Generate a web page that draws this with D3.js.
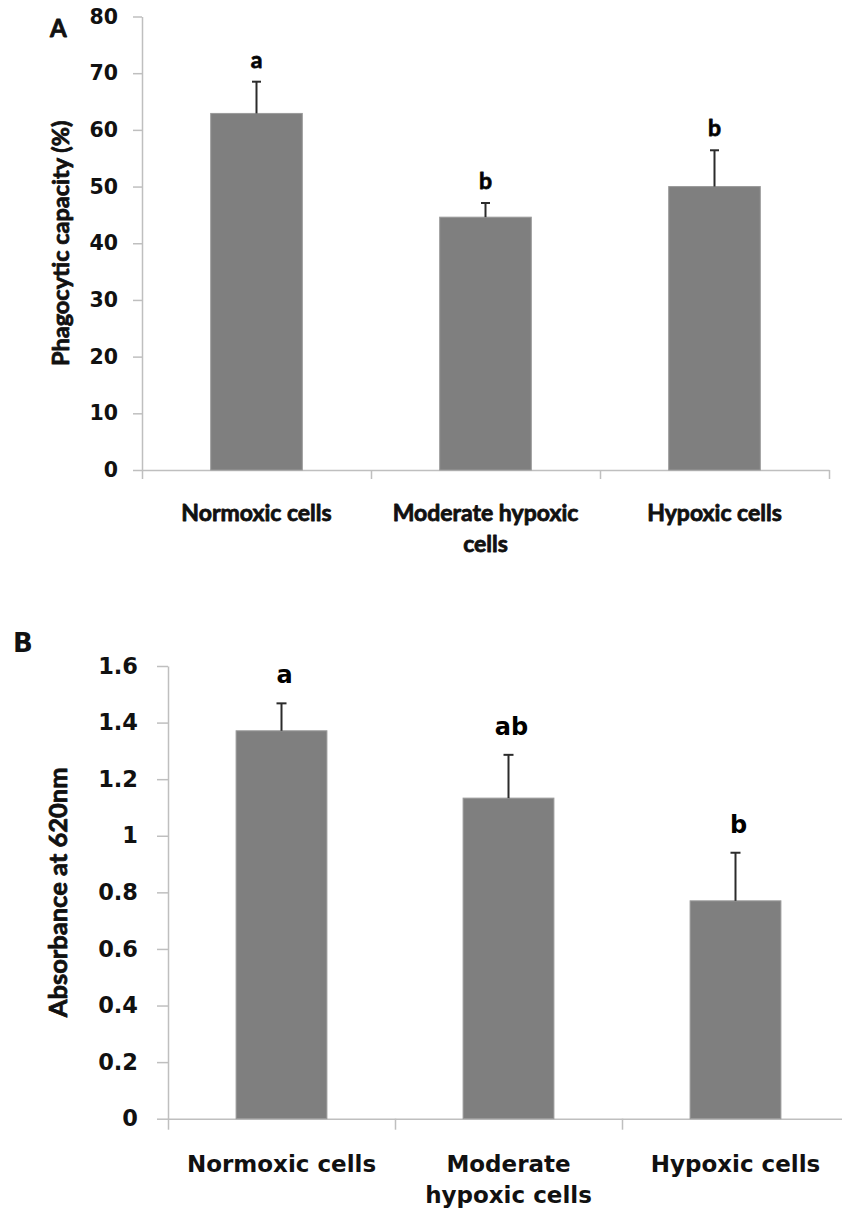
<!DOCTYPE html>
<html>
<head>
<meta charset="utf-8">
<script src="https://cdn.jsdelivr.net/npm/d3@7"></script>
<style>
  body { margin: 0; background: #fff; }
  svg { display: block; }
  .heavy { stroke: #111; stroke-width: 0.8px; stroke-linejoin: round; }
</style>
</head>
<body>
<svg id="fig" width="842" height="1211"></svg>
<script>
// DATA
const groups = ["Normoxic cells", "Moderate hypoxic cells", "Hypoxic cells"];

const phagoMean = [62.9, 44.6, 50.0];
const phagoErr = [5.6, 2.5, 6.4];
const phagoLetters = ["a", "b", "b"];
const phagoTicks = [0, 10, 20, 30, 40, 50, 60, 70, 80];
const phagoLabelLines = [["Normoxic cells"], ["Moderate hypoxic", "cells"], ["Hypoxic cells"]];

const absMean = [1.371, 1.133, 0.770];
const absErr = [0.097, 0.153, 0.170];
const absLetters = ["a", "ab", "b"];
const absTicks = [0, 0.2, 0.4, 0.6, 0.8, 1, 1.2, 1.4, 1.6];
const absLabelLines = [["Normoxic cells"], ["Moderate", "hypoxic cells"], ["Hypoxic cells"]];

const svg = d3.select("#fig");

// Lato bold is lighter than the scanned Calibri, so it gets a thin outline
const isLato = (f) => f.indexOf("Lato") === 0;

function drawPanel(cfg) {
  const g = svg.append("g");

  const x = d3.scaleBand().domain(groups).range([cfg.x0, cfg.x1]).padding(0);
  const y = d3.scaleLinear().domain(cfg.domain).range([cfg.y0, cfg.y1]);
  const bw = x.bandwidth() * 0.4;

  // y axis
  const yAxis = g.append("g")
    .attr("transform", `translate(${cfg.x0},0)`)
    .call(
      d3.axisLeft(y)
        .tickValues(cfg.ticks)
        .tickSize(cfg.tickSize)
        .tickSizeOuter(0)
        .tickPadding(cfg.tickPad)
        .tickFormat(cfg.fmt)
    );
  yAxis.select(".domain").attr("stroke", "#bfbfbf").attr("stroke-width", 1.5);
  yAxis.selectAll(".tick line").attr("stroke", "#bfbfbf").attr("stroke-width", 1.5);
  yAxis.selectAll(".tick text")
    .attr("fill", "#111")
    .style("font-family", cfg.tickFont)
    .style("font-weight", "bold")
    .style("font-size", cfg.tickFontSize + "px");

  // x axis: ticks at category boundaries
  const xb = d3.scaleLinear().domain([0, groups.length]).range([cfg.x0, cfg.x1]);
  const xAxis = g.append("g")
    .attr("transform", `translate(0,${cfg.y0})`)
    .call(
      d3.axisBottom(xb)
        .tickValues(d3.range(groups.length + 1))
        .tickSize(cfg.tickSize)
        .tickSizeOuter(0)
        .tickFormat("")
    );
  xAxis.select(".domain").attr("stroke", "#bfbfbf").attr("stroke-width", 1.5);
  xAxis.selectAll(".tick line").attr("stroke", "#bfbfbf").attr("stroke-width", 1.5);

  // bars
  g.selectAll("rect.bar")
    .data(groups)
    .join("rect")
    .attr("class", "bar")
    .attr("x", (d) => x(d) + (x.bandwidth() - bw) / 2)
    .attr("y", (d, i) => y(cfg.mean[i]))
    .attr("width", bw)
    .attr("height", (d, i) => y(0) - y(cfg.mean[i]))
    .attr("fill", "#7f7f7f")
    .attr("stroke", "#9a9a9a")
    .attr("stroke-width", 1);

  // error bars (upper only)
  const eb = g.selectAll("g.err").data(groups).join("g").attr("class", "err");
  const cx = (d) => x(d) + x.bandwidth() / 2;
  eb.append("line")
    .attr("x1", cx).attr("x2", cx)
    .attr("y1", (d, i) => y(cfg.mean[i]))
    .attr("y2", (d, i) => y(cfg.mean[i] + cfg.err[i]))
    .attr("stroke", "#2b2b2b")
    .attr("stroke-width", 2);
  eb.append("line")
    .attr("x1", (d) => cx(d) - cfg.cap).attr("x2", (d) => cx(d) + cfg.cap)
    .attr("y1", (d, i) => y(cfg.mean[i] + cfg.err[i]))
    .attr("y2", (d, i) => y(cfg.mean[i] + cfg.err[i]))
    .attr("stroke", "#2b2b2b")
    .attr("stroke-width", 2);

  // significance letters
  g.selectAll("text.sig")
    .data(groups)
    .join("text")
    .attr("class", "sig" + (isLato(cfg.letterFont) ? " heavy" : ""))
    .attr("x", (d) => cx(d) + cfg.letterDx)
    .attr("y", (d, i) => y(cfg.mean[i] + cfg.err[i]) - cfg.letterGap)
    .attr("text-anchor", "middle")
    .style("font-family", cfg.letterFont)
    .style("font-weight", "bold")
    .style("font-size", cfg.letterFontSize + "px")
    .text((d, i) => cfg.letters[i]);

  // category labels
  const lab = g.selectAll("text.cat")
    .data(groups)
    .join("text")
    .attr("class", "cat" + (isLato(cfg.catFont) ? " heavy" : ""))
    .attr("text-anchor", "middle")
    .style("font-family", cfg.catFont)
    .style("font-weight", "bold")
    .style("font-size", cfg.catFontSize + "px")
    .attr("fill", "#111");
  lab.selectAll("tspan")
    .data((d, i) => cfg.labelLines[i].map((t) => ({ t, c: cx(d) })))
    .join("tspan")
    .attr("x", (d) => d.c)
    .attr("y", (d, j) => cfg.catBase + j * cfg.catLine)
    .text((d) => d.t);

  // y title
  g.append("text")
    .attr("class", "heavy")
    .attr("transform", `translate(${cfg.titleX},${(cfg.y0 + cfg.y1) / 2}) rotate(-90)`)
    .attr("text-anchor", "middle")
    .style("font-family", "Lato, sans-serif")
    .style("font-weight", "bold")
    .style("font-size", cfg.titleFontSize + "px")
    .attr("fill", "#111")
    .text(cfg.title);

  // panel letter
  g.append("text")
    .attr("class", isLato(cfg.panelFont) ? "heavy" : null)
    .attr("x", cfg.panelX)
    .attr("y", cfg.panelY)
    .style("font-family", cfg.panelFont)
    .style("font-weight", "bold")
    .style("font-size", cfg.panelFontSize + "px")
    .attr("fill", "#111")
    .text(cfg.panel);
}

drawPanel({
  panel: "A", panelX: 50, panelY: 36.5, panelFont: "Lato, sans-serif", panelFontSize: 24,
  title: "Phagocytic capacity (%)", titleX: 69, titleFontSize: 23.5,
  mean: phagoMean, err: phagoErr, letters: phagoLetters, labelLines: phagoLabelLines,
  domain: [0, 80], ticks: phagoTicks, fmt: d3.format("d"),
  x0: 142, x1: 829, y0: 470, y1: 16.5,
  tickSize: 9, tickPad: 15, tickFont: "'DejaVu Sans', sans-serif", tickFontSize: 20.5,
  cap: 4.5, letterGap: 14, letterDx: 0, letterFont: "Lato, sans-serif", letterFontSize: 23,
  catFont: "Lato, sans-serif", catFontSize: 23, catBase: 521, catLine: 31,
});

drawPanel({
  panel: "B", panelX: 13, panelY: 652, panelFont: "'DejaVu Sans', sans-serif", panelFontSize: 26,
  title: "Absorbance at 620nm", titleX: 67, titleFontSize: 25.5,
  mean: absMean, err: absErr, letters: absLetters, labelLines: absLabelLines,
  domain: [0, 1.6], ticks: absTicks, fmt: (d) => String(d),
  x0: 168, x1: 849, y0: 1118.7, y1: 666,
  tickSize: 11, tickPad: 19, tickFont: "'DejaVu Sans', sans-serif", tickFontSize: 22.5,
  cap: 5, letterGap: 20, letterDx: 3, letterFont: "'DejaVu Sans', sans-serif", letterFontSize: 24,
  catFont: "'DejaVu Sans', sans-serif", catFontSize: 23, catBase: 1171.7, catLine: 31.5,
});
</script>
</body>
</html>
